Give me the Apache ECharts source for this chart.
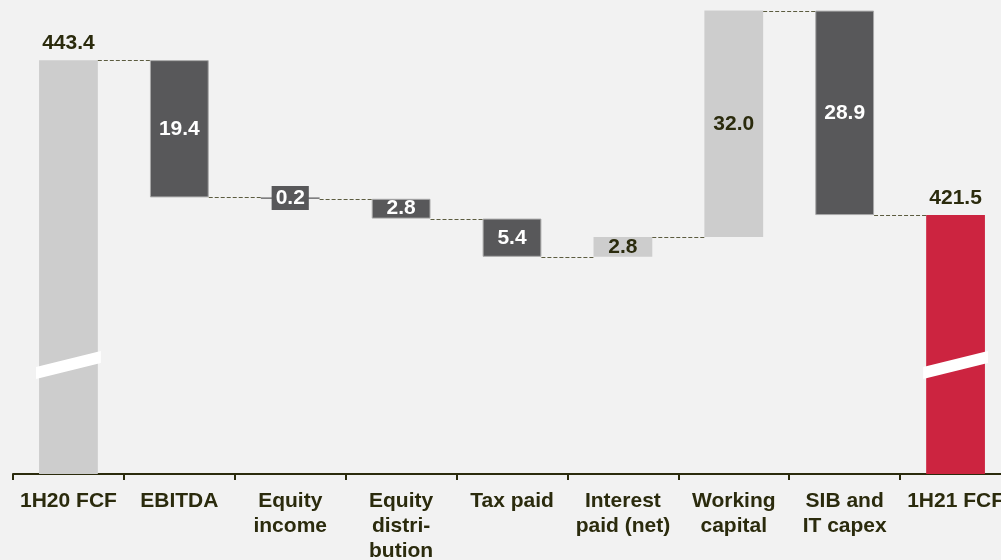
<!DOCTYPE html>
<html>
<head>
<meta charset="utf-8">
<script src="https://cdn.jsdelivr.net/npm/echarts@6/dist/echarts.min.js"></script>
<style>
html,body{margin:0;padding:0;background:#f2f2f2;}
#c{width:1001px;height:560px;}
</style>
</head>
<body>
<div id="c"></div>
<script>
// ---- data ----
const categories = ['1H20 FCF', 'EBITDA', 'Equity\nincome', 'Equity\ndistri-\nbution', 'Tax paid', 'Interest\npaid (net)', 'Working\ncapital', 'SIB and\nIT capex', '1H21 FCF'];
const changes = [443.4, -19.4, -0.2, -2.8, -5.4, 2.8, 32.0, -28.9, 421.5];
const isTotal = [true, false, false, false, false, false, false, false, true];
const breakValue = 400.3; // where the axis-break mark sits on the total bars

// ---- derived ----
const r1 = v => Math.round(v * 10) / 10;
const baseVals = [], visVals = [], levels = [];
let level = 0;
changes.forEach((c, i) => {
  if (isTotal[i]) { baseVals.push(0); visVals.push(c); level = c; }
  else { const prev = level; level = r1(prev + c); baseVals.push(Math.min(prev, level)); visVals.push(Math.abs(c)); }
  levels.push(level);
});

const TXT = '#2b2b0d';
const FONT = "'Liberation Sans', Arial, sans-serif";
const LIGHT = '#cdcdcd', DARK = '#58585a', RED = '#cc2440';

const visData = visVals.map((v, i) => {
  let itemStyle, label;
  if (isTotal[i]) {
    itemStyle = { color: i === 0 ? LIGHT : RED };
    label = { show: true, position: 'top', color: TXT, distance: 6 };
  } else if (changes[i] > 0) {
    itemStyle = { color: LIGHT };
    label = { show: true, position: 'inside', color: TXT };
  } else {
    itemStyle = { color: DARK, borderColor: '#a8a8a8', borderWidth: 1 };
    label = { show: true, position: 'inside', color: '#ffffff' };
    if (Math.abs(changes[i]) < 1) {
      itemStyle.borderWidth = 0;
      label.backgroundColor = DARK;
      label.padding = [1, 4];
      label.lineHeight = 22;
    }
  }
  return { value: v, itemStyle, label };
});

const connData = levels.slice(0, -1).map((l, i) => [i, l]);
const breakData = [[0, breakValue], [categories.length - 1, breakValue]];

const chart = echarts.init(document.getElementById('c'));
chart.setOption({
  backgroundColor: '#f2f2f2',
  animation: false,
  grid: { left: 13, width: 998, top: 0, height: 474, containLabel: false, outerBoundsMode: 'none' },
  xAxis: {
    type: 'category',
    data: categories,
    axisLine: { lineStyle: { color: TXT, width: 2 } },
    axisTick: { show: true, length: 6, lineStyle: { color: TXT, width: 2 } },
    axisLabel: {
      interval: 0, color: TXT, fontFamily: FONT, fontWeight: 'bold',
      fontSize: 21, lineHeight: 25, margin: 15
    }
  },
  yAxis: { type: 'value', min: 384.9, max: 451.9, show: false, splitLine: { show: false } },
  series: [
    {
      type: 'bar', stack: 'w', barWidth: '53%', silent: true,
      itemStyle: { color: 'transparent' }, data: baseVals
    },
    {
      type: 'bar', stack: 'w', barWidth: '53%',
      label: { fontFamily: FONT, fontWeight: 'bold', fontSize: 21,
        formatter: p => changes[p.dataIndex].toFixed(1).replace('-', '') },
      data: visData
    },
    {
      type: 'custom', z: 3, silent: true,
      renderItem: (params, api) => {
        const i = api.value(0), v = api.value(1);
        const p0 = api.coord([i, v]), p1 = api.coord([i + 1, v]);
        const bw = api.size([1, 0])[0] * 0.53;
        return {
          type: 'line',
          shape: { x1: p0[0] + bw / 2, y1: Math.round(p0[1]) + 0.5, x2: p1[0] - bw / 2, y2: Math.round(p0[1]) + 0.5 },
          style: { stroke: '#5c5c40', lineWidth: 1.2, lineDash: [4, 2] }
        };
      },
      data: connData
    },
    {
      type: 'custom', z: 4, silent: true,
      renderItem: (params, api) => {
        const p = api.coord([api.value(0), api.value(1)]);
        const bw = api.size([1, 0])[0] * 0.53;
        const l = p[0] - bw / 2 - 3, r = p[0] + bw / 2 + 3;
        return {
          type: 'polygon',
          shape: { points: [[l, p[1] + 2], [r, p[1] - 14], [r, p[1] - 2], [l, p[1] + 14]] },
          style: { fill: '#ffffff' }
        };
      },
      data: breakData
    }
  ]
});
</script>
</body>
</html>
